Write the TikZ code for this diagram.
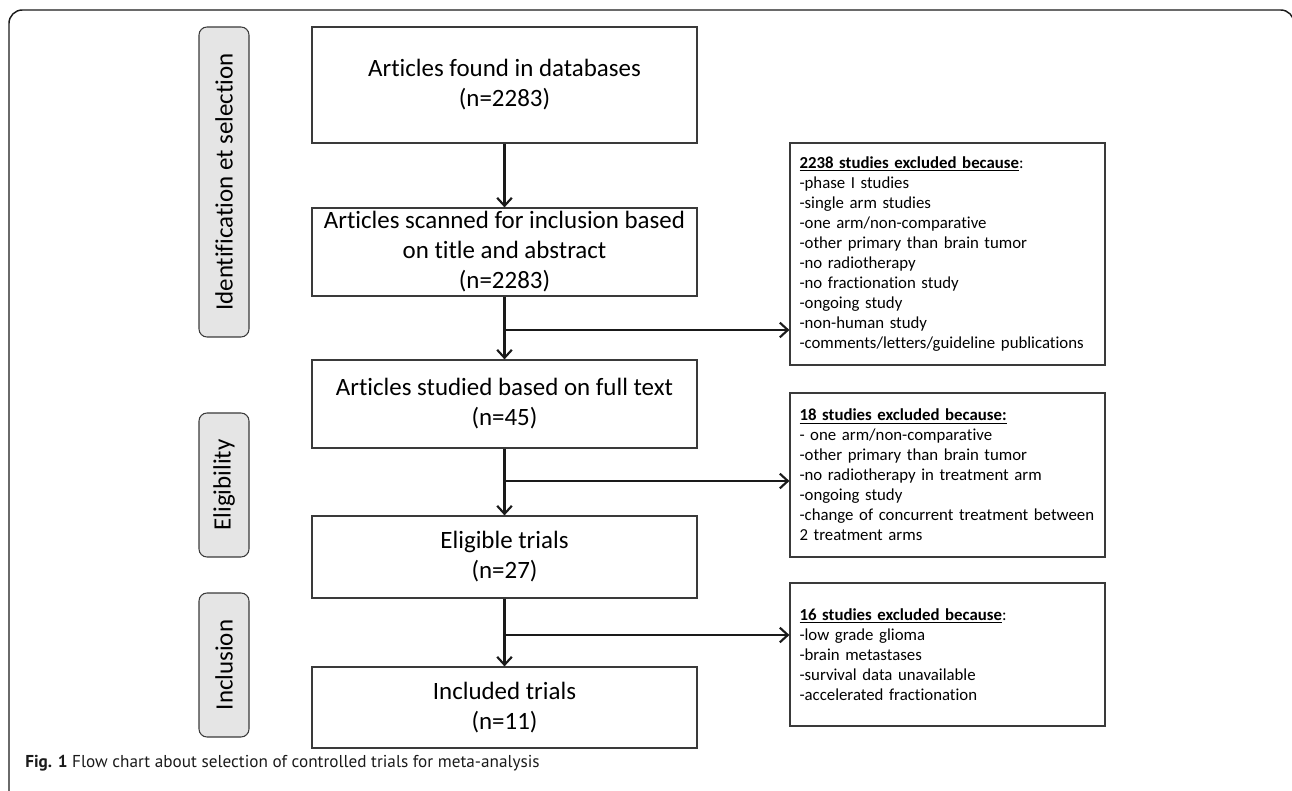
\documentclass[tikz,border=0pt]{standalone}
\usepackage{fontspec}
\setmainfont{Carlito}[RawFeature={-liga}]
\newfontfamily\capfont{PT Sans}
\usetikzlibrary{arrows.meta,calc}
\definecolor{boxline}{HTML}{3A3A3A}
\definecolor{arrowc}{HTML}{1A1A1A}
\definecolor{stagefill}{HTML}{E5E5E5}
\tikzset{
  mainbox/.style={draw=boxline, line width=0.9pt, fill=white, align=center,
    minimum width=288.75pt, inner sep=0pt, font=\fontsize{18.7}{22.5}\selectfont},
  sidebox/.style={draw=boxline, line width=0.9pt, fill=white, align=left,
    minimum width=236.25pt, text width=222pt, inner sep=0pt,
    font=\fontsize{12.6}{15}\selectfont},
  stagebox/.style={draw=boxline, line width=0.8pt, fill=stagefill, rounded corners=6pt,
    minimum width=37.5pt, inner sep=0pt, font=\fontsize{18.7}{21}\selectfont},
  flow/.style={draw=arrowc, line width=1.8pt, -{Straight Barb[length=6pt,width=11pt,line width=1.6pt]}},
}
\begin{document}
\begin{tikzpicture}[x=0.75pt,y=-0.75pt]
\useasboundingbox (0,0) rectangle (1292,791);
% outer frame
\draw[line width=1.1pt, color=arrowc, rounded corners=10pt]
  (9,810) -- (9,10) -- (1294,10) -- (1294,810);
% stage labels
\node[stagebox, minimum height=232.5pt] (s1) at (224,182) {\rotatebox{90}{Identification et selection}};
\node[stagebox, minimum height=108pt] (s2) at (224,485) {\rotatebox{90}{Eligibility}};
\node[stagebox, minimum height=108pt] (s3) at (224,665) {\rotatebox{90}{Inclusion}};
% main boxes
\node[mainbox, minimum height=87pt] (b1) at (504.5,85) {Articles found in databases\\(n=2283)};
\node[mainbox, minimum height=66pt] (b2) at (504.5,252) {Articles scanned for inclusion based\\on title and abstract\\(n=2283)};
\node[mainbox, minimum height=66pt] (b3) at (504.5,404) {Articles studied based on full text\\(n=45)};
\node[mainbox, minimum height=61.5pt] (b4) at (504.5,557) {Eligible trials\\(n=27)};
\node[mainbox, minimum height=60.75pt] (b5) at (504.5,707.5) {Included trials\\(n=11)};
% side boxes
\node[sidebox, minimum height=166.5pt] (e1) at (947.5,254) {\underline{\textbf{2238 studies excluded because}}:\\-phase I studies\\-single arm studies\\-one arm/non-comparative\\-other primary than brain tumor\\-no radiotherapy\\-no fractionation study\\-ongoing study\\-non-human study\\-comments/letters/guideline publications};
\node[sidebox, minimum height=123pt] (e2) at (947.5,475) {\underline{\textbf{18 studies excluded because:}}\\- one arm/non-comparative\\-other primary than brain tumor\\-no radiotherapy in treatment arm\\-ongoing study\\-change of concurrent treatment between\\2 treatment arms};
\node[sidebox, minimum height=107.25pt] (e3) at (947.5,654.5) {\underline{\textbf{16 studies excluded because}}:\\-low grade glioma\\-brain metastases\\-survival data unavailable\\-accelerated fractionation};
% connectors
\coordinate (j1) at (504.5,330);
\coordinate (j2) at (504.5,481);
\coordinate (j3) at (504.5,635);
\draw[flow] (b1.south) -- (b2.north);
\draw[flow] (b2.south) -- (b3.north);
\draw[flow] (b3.south) -- (b4.north);
\draw[flow] (b4.south) -- (b5.north);
\draw[flow] (j1) -- (j1 -| e1.west);
\draw[flow] (j2) -- (j2 -| e2.west);
\draw[flow] (j3) -- (j3 -| e3.west);
% caption
\node[anchor=west, inner sep=0pt, font=\capfont\fontsize{12.9}{14}\selectfont, color=arrowc] (cap) at (25,763)
  {\textbf{Fig. 1} Flow chart about selection of controlled trials for meta-analysis};
\end{tikzpicture}
\end{document}
